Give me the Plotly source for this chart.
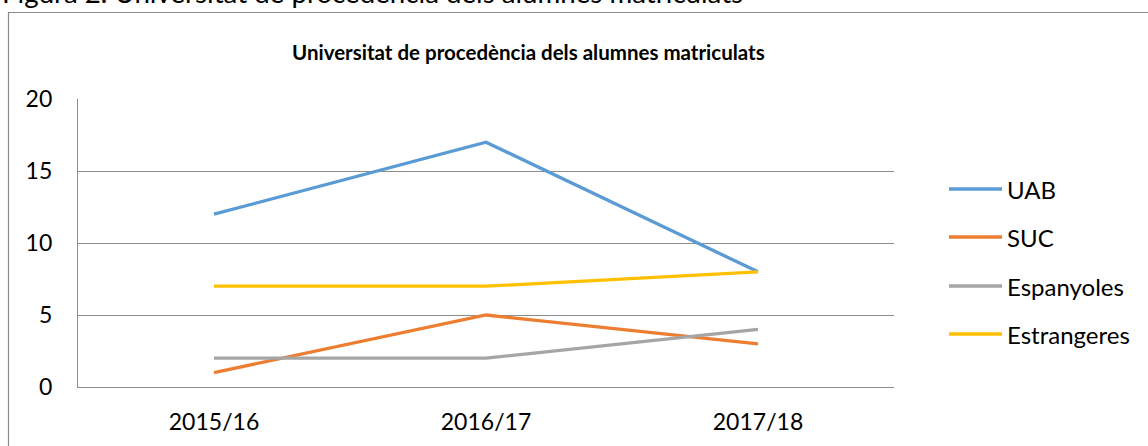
import plotly.graph_objects as go

categories = ["2015/16", "2016/17", "2017/18"]
series_names = ["UAB", "SUC", "Espanyoles", "Estrangeres"]
uab = [12, 17, 8]
suc = [1, 5, 3]
espanyoles = [2, 2, 4]
estrangeres = [7, 7, 8]
colors = ["#5B9BD5", "#ED7D31", "#A5A5A5", "#FFC000"]
y_ticks = [0, 5, 10, 15, 20]

FONT = "Lato"
W, H = 1148, 446
L, R, T, B = 78, 254, 99, 59
pw, ph = W - L - R, H - T - B

def px_x(x):
    return (x - L) / pw

def px_y(y):
    return (H - B - y) / ph

fig = go.Figure()
for name, vals, col in zip(series_names, [uab, suc, espanyoles, estrangeres], colors):
    fig.add_trace(go.Scatter(x=categories, y=vals, mode="lines", name=name,
                             line=dict(color=col, width=3.3), showlegend=False))

shapes = []
annotations = []
# manual legend
leg_y = [189, 237, 286, 334]
for name, col, yy in zip(series_names, colors, leg_y):
    shapes.append(dict(type="line", xref="paper", yref="paper",
                       x0=px_x(949), x1=px_x(1002), y0=px_y(yy), y1=px_y(yy),
                       line=dict(color=col, width=3.3)))
    annotations.append(dict(text=name, xref="paper", yref="paper", x=px_x(1005), y=px_y(yy),
                            xanchor="left", yanchor="middle", showarrow=False,
                            font=dict(family=FONT, size=24, color="#000000")))
# outer chart border
shapes.append(dict(type="rect", xref="paper", yref="paper",
                   x0=px_x(8.5), x1=px_x(1200), y0=px_y(500), y1=px_y(12.5),
                   line=dict(color="#8a8a8a", width=1.2), fillcolor="rgba(0,0,0,0)", layer="below"))
# chart title
annotations.append(dict(text="<b>Universitat de procedència dels alumnes matriculats</b>",
                        xref="paper", yref="paper", x=px_x(528), y=px_y(52),
                        xanchor="center", yanchor="middle", showarrow=False,
                        font=dict(family=FONT, size=20.5, color="#000000")))
# caption above
annotations.append(dict(text="Figura 2. Universitat de procedència dels alumnes matriculats",
                        xref="paper", yref="paper", x=px_x(0), y=px_y(11),
                        xanchor="left", yanchor="bottom", showarrow=False,
                        font=dict(family=FONT, size=27.7, color="#000000")))

fig.update_layout(
    width=W, height=H,
    margin=dict(l=L, r=R, t=T, b=B),
    paper_bgcolor="white", plot_bgcolor="white",
    font=dict(family=FONT, size=23, color="#000000"),
    shapes=shapes, annotations=annotations,
    showlegend=False,
)
fig.update_xaxes(type="category", range=[-0.5, 2.5], showline=True, linecolor="#8c8c8c",
                 linewidth=1.2, showgrid=False, ticks="", ticklabelstandoff=14,
                 tickfont=dict(family=FONT, size=23, color="#000000"), zeroline=False,
                 fixedrange=True)
fig.update_yaxes(range=[0, 20], tickvals=y_ticks, showline=True, linecolor="#8c8c8c",
                 linewidth=1.2, showgrid=True, gridcolor="#8c8c8c", gridwidth=1.2,
                 ticks="", ticklabelstandoff=20, zeroline=False,
                 tickfont=dict(family=FONT, size=23, color="#000000"), fixedrange=True)

fig.write_html("out.html", config={"displayModeBar": False},
               post_script="document.body.style.margin='0px';document.body.style.overflow='hidden';")
